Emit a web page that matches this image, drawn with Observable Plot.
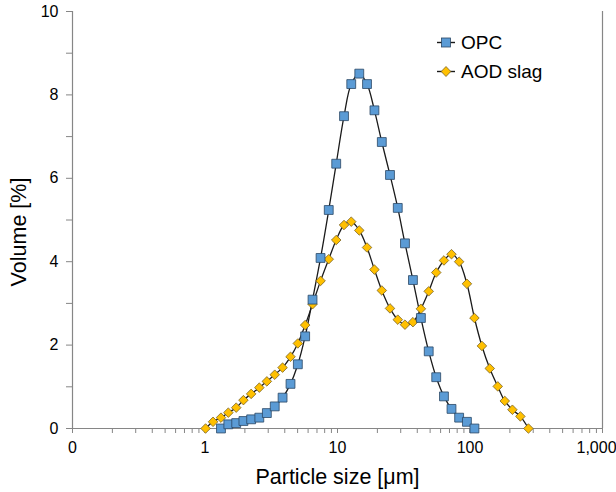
<!DOCTYPE html>
<html><head><meta charset="utf-8">
<script src="https://cdn.jsdelivr.net/npm/d3@7"></script>
<script src="https://cdn.jsdelivr.net/npm/@observablehq/plot@0.6"></script>
<style>
body{margin:0;background:#fff;}
#wrap{position:relative;width:616px;height:492px;font-family:"Liberation Sans",Arial,sans-serif;}
#legend{position:absolute;left:437px;top:28px;font-size:19px;color:#000;}
.item{display:flex;align-items:center;height:29px;}
.item svg{margin-right:6px;}
</style></head><body><div id="wrap"><div id="legend"></div></div>
<script>
// Particle size bins [µm]
const particleSizes = [1.01, 1.15, 1.32, 1.50, 1.72, 1.95, 2.23, 2.57, 2.93, 3.36, 3.85, 4.42, 5.02, 5.70, 6.48, 7.45, 8.59, 9.78, 11.2, 12.7, 14.6, 16.7, 19.0, 21.6, 24.9, 28.5, 32.3, 37.1, 42.6, 48.8, 55.6, 63.6, 72.5, 82.8, 94.8, 108, 123, 141, 162, 183, 209, 240, 276];
// OPC volume [%], from 1.32 µm to 108 µm
const opcVolume = [0.00, 0.10, 0.13, 0.18, 0.22, 0.26, 0.37, 0.53, 0.74, 1.07, 1.54, 2.21, 3.09, 4.09, 5.24, 6.35, 7.49, 8.26, 8.51, 8.26, 7.63, 6.87, 6.08, 5.29, 4.44, 3.56, 2.65, 1.85, 1.23, 0.77, 0.47, 0.26, 0.16, 0.00];
const opcStart = 2;
// AOD slag volume [%], over all bins
const aodVolume = [0, 0.16, 0.26, 0.38, 0.50, 0.68, 0.83, 0.98, 1.13, 1.29, 1.46, 1.72, 2.04, 2.48, 2.98, 3.54, 4.06, 4.52, 4.88, 4.96, 4.75, 4.34, 3.81, 3.31, 2.88, 2.61, 2.49, 2.55, 2.87, 3.29, 3.74, 4.03, 4.18, 4.00, 3.47, 2.65, 1.98, 1.44, 1.01, 0.66, 0.45, 0.29, 0];

const xMajorTicks = [0.1, 1, 10, 100, 1000];
const xMajorLabels = ["0", "1", "10", "100", "1,000"];
const xMinorTicks = [0.2,0.3,0.4,0.5,0.6,0.7,0.8,0.9, 2,3,4,5,6,7,8,9, 20,30,40,50,60,70,80,90, 200,300,400,500,600,700,800,900];
const yMajorTicks = [0, 2, 4, 6, 8, 10];
const yMinorTicks = [1, 3, 5, 7, 9];

const seriesNames = ["OPC", "AOD slag"];
const seriesFill = ["#5B9BD5", "#FFC000"];
const seriesStroke = ["#2B4764", "#7A6326"];
const seriesSymbol = ["square", "diamond2"];

const opc = opcVolume.map((v, i) => ({size: particleSizes[i + opcStart], volume: v}));
const aod = aodVolume.map((v, i) => ({size: particleSizes[i], volume: v}));

const axisGray = "#868686";
const lineColor = "#1a1a1a";
const xLabel = d => xMajorLabels[xMajorTicks.indexOf(d)];
const lastTick = xMajorTicks[xMajorTicks.length - 1];

const chart = Plot.plot({
  width: 616, height: 492,
  marginLeft: 72, marginRight: 14, marginTop: 11, marginBottom: 64,
  style: {fontFamily: "'Liberation Sans', Arial, sans-serif", fontSize: "16px", color: "#000", background: "#fff", overflow: "visible"},
  x: {type: "log", domain: [0.1, 1000]},
  y: {domain: [0, 10]},
  marks: [
    Plot.axisX(xMajorTicks, {tickSize: 5, stroke: axisGray, label: null, tickFormat: () => ""}),
    Plot.axisX(xMajorTicks.filter(d => d !== lastTick), {tickSize: 5, tickPadding: 8, stroke: axisGray, fill: "#000", fontSize: 16, label: null, tickFormat: xLabel}),
    Plot.axisX([lastTick], {tickSize: 0, tickPadding: 13, dx: -6, stroke: "none", fill: "#000", fontSize: 16, label: null, tickFormat: xLabel}),
    Plot.axisX(xMinorTicks, {tickSize: 5, stroke: axisGray, label: null, tickFormat: () => ""}),
    Plot.axisY(yMajorTicks, {tickSize: 6, tickPadding: 8, stroke: axisGray, fill: "#000", fontSize: 16, label: null}),
    Plot.axisY(yMinorTicks, {tickSize: 6, stroke: axisGray, label: null, tickFormat: () => ""}),
    Plot.ruleX([0.1], {stroke: axisGray, strokeWidth: 1.2}),
    Plot.ruleX([1000], {stroke: axisGray, strokeWidth: 1.2}),
    Plot.ruleY([0], {stroke: axisGray, strokeWidth: 1.2}),
    Plot.line(aod, {x: "size", y: "volume", stroke: lineColor, strokeWidth: 1.3, curve: "catmull-rom"}),
    Plot.line(opc, {x: "size", y: "volume", stroke: lineColor, strokeWidth: 1.3, curve: "catmull-rom"}),
    Plot.dot(aod, {x: "size", y: "volume", symbol: seriesSymbol[1], r: 4.3, fill: seriesFill[1], stroke: seriesStroke[1], strokeWidth: 0.8}),
    Plot.dot(opc, {x: "size", y: "volume", symbol: seriesSymbol[0], r: 5, fill: seriesFill[0], stroke: seriesStroke[0], strokeWidth: 0.8}),
    Plot.text(["Particle size [μm]"], {frameAnchor: "bottom", lineAnchor: "middle", dy: 49, fontSize: 21.5, fill: "#000"}),
    Plot.text(["Volume [%]"], {frameAnchor: "left", textAnchor: "middle", lineAnchor: "middle", dx: -53, dy: 12, rotate: -90, fontSize: 21.5, fill: "#000"})
  ]
});
document.getElementById("wrap").prepend(chart);

// Legend
const legend = document.getElementById("legend");
seriesNames.forEach((name, i) => {
  const item = document.createElement("div");
  item.className = "item";
  const shape = i === 0
    ? `<rect x="4.5" y="5" width="9" height="9" fill="${seriesFill[i]}" stroke="${seriesStroke[i]}" stroke-width="0.8"/>`
    : `<path d="M9,4.5 L13.8,9.5 L9,14.5 L4.2,9.5 Z" fill="${seriesFill[i]}" stroke="${seriesStroke[i]}" stroke-width="0.8"/>`;
  item.innerHTML = `<svg width="18" height="19"><line x1="0" y1="9.5" x2="18" y2="9.5" stroke="${lineColor}" stroke-width="1.4"/>${shape}</svg><span>${name}</span>`;
  legend.appendChild(item);
});
</script>
</body></html>
